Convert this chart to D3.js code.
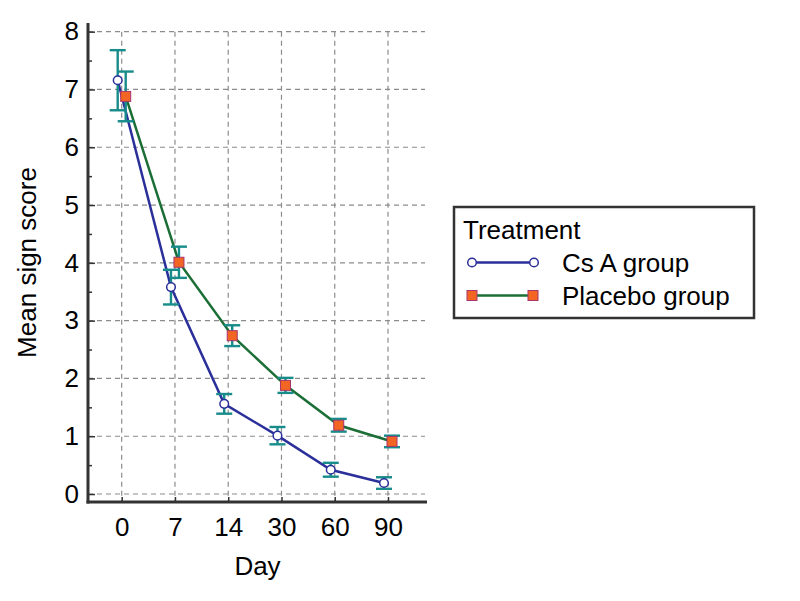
<!DOCTYPE html>
<html>
<head>
<meta charset="utf-8">
<script src="https://cdn.jsdelivr.net/npm/d3@7"></script>
<style>
  body { margin: 0; background: #fff; }
  svg { font-family: 'Liberation Sans', Arial, sans-serif; }
</style>
</head>
<body>
<script>
// values
const days = ['0', '7', '14', '30', '60', '90'];
const csaMean = [7.16, 3.58, 1.56, 1.01, 0.42, 0.19];
const csaErr = [0.52, 0.30, 0.17, 0.15, 0.12, 0.10];
const placeboMean = [6.88, 4.01, 2.74, 1.88, 1.19, 0.91];
const placeboErr = [0.43, 0.27, 0.18, 0.13, 0.11, 0.10];
const yTicks = [0, 1, 2, 3, 4, 5, 6, 7, 8];
const yMinor = [0.5, 1.5, 2.5, 3.5, 4.5, 5.5, 6.5, 7.5];

const w = 800, h = 601;
const plotL = 88, plotR = 427, plotT = 23, plotB = 502;
const fs = 26;

const svg = d3.select('body').append('svg')
  .attr('width', w)
  .attr('height', h);

const xScale = d3.scalePoint().domain(days).range([121.7, 388]);
const yScale = d3.scaleLinear().domain([-0.138, 8.15]).range([plotB, plotT]);
const offset = { csa: -4, placebo: 4 };

//dashed grid
const grid = svg.append('g').attr('stroke', '#8c8c8c').attr('stroke-width', 1.2).attr('stroke-dasharray', '5,4');
grid.selectAll('.hg').data(yTicks).enter().append('line')
  .attr('x1', plotL).attr('x2', 425)
  .attr('y1', (d) => yScale(d)).attr('y2', (d) => yScale(d));
grid.selectAll('.vg').data(days).enter().append('line')
  .attr('x1', (d) => xScale(d)).attr('x2', (d) => xScale(d))
  .attr('y1', yScale(8)).attr('y2', plotB);

//axes
const yAxis = d3.axisLeft(yScale).tickValues(yTicks).tickSizeInner(-7).tickSizeOuter(0).tickPadding(9);
const yg = svg.append('g').attr('transform', `translate(${plotL},0)`).call(yAxis);
yg.select('.domain').remove();
yg.selectAll('.tick line').attr('stroke', '#333').attr('stroke-width', 1.5);
yg.selectAll('.tick text').attr('font-size', fs).attr('fill', '#000');
yg.attr('font-family', null).attr('font-size', null);

const yMin = d3.axisLeft(yScale).tickValues(yMinor).tickSizeInner(-4).tickSizeOuter(0).tickFormat('');
const ymg = svg.append('g').attr('transform', `translate(${plotL},0)`).call(yMin);
ymg.select('.domain').remove();
ymg.selectAll('.tick line').attr('stroke', '#333').attr('stroke-width', 1.5);

const xAxis = d3.axisBottom(xScale).tickSizeInner(-5).tickSizeOuter(0).tickPadding(16);
const xg = svg.append('g').attr('transform', `translate(0,${plotB})`).call(xAxis);
xg.select('.domain').remove();
xg.selectAll('.tick line').attr('stroke', '#333').attr('stroke-width', 1.5);
xg.selectAll('.tick text').attr('font-size', fs).attr('fill', '#000');
xg.attr('font-family', null).attr('font-size', null);

svg.append('line').attr('x1', plotL).attr('x2', plotL).attr('y1', plotT).attr('y2', plotB + 1.5)
  .attr('stroke', '#333').attr('stroke-width', 3);
svg.append('line').attr('x1', plotL - 1.5).attr('x2', plotR).attr('y1', plotB).attr('y2', plotB)
  .attr('stroke', '#333').attr('stroke-width', 3);

//axis titles
svg.append('text')
  .attr('transform', `translate(36, ${(plotT + plotB) / 2}) rotate(-90)`)
  .attr('text-anchor', 'middle')
  .attr('font-size', fs)
  .text('Mean sign score');
svg.append('text')
  .attr('x', (plotL + plotR) / 2).attr('y', 575)
  .attr('text-anchor', 'middle')
  .attr('font-size', fs)
  .text('Day');

//series
const series = [
  { key: 'csa', mean: csaMean, err: csaErr, line: '#2b2f9a' },
  { key: 'placebo', mean: placeboMean, err: placeboErr, line: '#1b6e36' }
];

const lineGen = d3.line().x((d) => d.x).y((d) => d.y);
series.forEach((s) => {
  s.pts = days.map((day, i) => ({
    x: xScale(day) + offset[s.key],
    y: yScale(s.mean[i]),
    hi: yScale(s.mean[i] + s.err[i]),
    lo: yScale(s.mean[i] - s.err[i])
  }));
  svg.append('path').datum(s.pts)
    .attr('d', lineGen)
    .attr('fill', 'none')
    .attr('stroke', s.line)
    .attr('stroke-width', 2.5);
});

//error bars
series.forEach((s) => {
  const eb = svg.append('g').attr('stroke', '#178c8a').attr('stroke-width', 2.4);
  eb.selectAll('.v').data(s.pts).enter().append('line')
    .attr('x1', (d) => d.x).attr('x2', (d) => d.x).attr('y1', (d) => d.hi).attr('y2', (d) => d.lo);
  eb.selectAll('.t').data(s.pts).enter().append('line')
    .attr('x1', (d) => d.x - 8).attr('x2', (d) => d.x + 8).attr('y1', (d) => d.hi).attr('y2', (d) => d.hi);
  eb.selectAll('.b').data(s.pts).enter().append('line')
    .attr('x1', (d) => d.x - 8).attr('x2', (d) => d.x + 8).attr('y1', (d) => d.lo).attr('y2', (d) => d.lo);
});

//markers
const drawCircle = (g, x, y) => g.append('circle').attr('cx', x).attr('cy', y).attr('r', 4.3)
  .attr('fill', '#fff').attr('stroke', '#2b2f9a').attr('stroke-width', 1.5);
const drawSquare = (g, x, y) => g.append('rect').attr('x', x - 5).attr('y', y - 5)
  .attr('width', 10).attr('height', 10)
  .attr('fill', '#f26522').attr('stroke', '#a8356e').attr('stroke-width', 1);

series[0].pts.forEach((p) => drawCircle(svg, p.x, p.y));
series[1].pts.forEach((p) => drawSquare(svg, p.x, p.y));

//legend
const lg = svg.append('g');
lg.append('rect').attr('x', 454).attr('y', 207).attr('width', 300).attr('height', 111)
  .attr('fill', '#fff').attr('stroke', '#333').attr('stroke-width', 2.5);
lg.append('text').attr('x', 463).attr('y', 239).attr('font-size', fs).text('Treatment');
lg.append('line').attr('x1', 472).attr('x2', 534).attr('y1', 262.5).attr('y2', 262.5)
  .attr('stroke', '#2b2f9a').attr('stroke-width', 2.5);
drawCircle(lg, 472, 262.5);
drawCircle(lg, 534, 262.5);
lg.append('text').attr('x', 562).attr('y', 271.5).attr('font-size', fs).text('Cs A group');
lg.append('line').attr('x1', 472).attr('x2', 533).attr('y1', 295.5).attr('y2', 295.5)
  .attr('stroke', '#1b6e36').attr('stroke-width', 2.5);
drawSquare(lg, 472, 295.5);
drawSquare(lg, 533, 295.5);
lg.append('text').attr('x', 562).attr('y', 304.5).attr('font-size', fs).text('Placebo group');
</script>
</body>
</html>
